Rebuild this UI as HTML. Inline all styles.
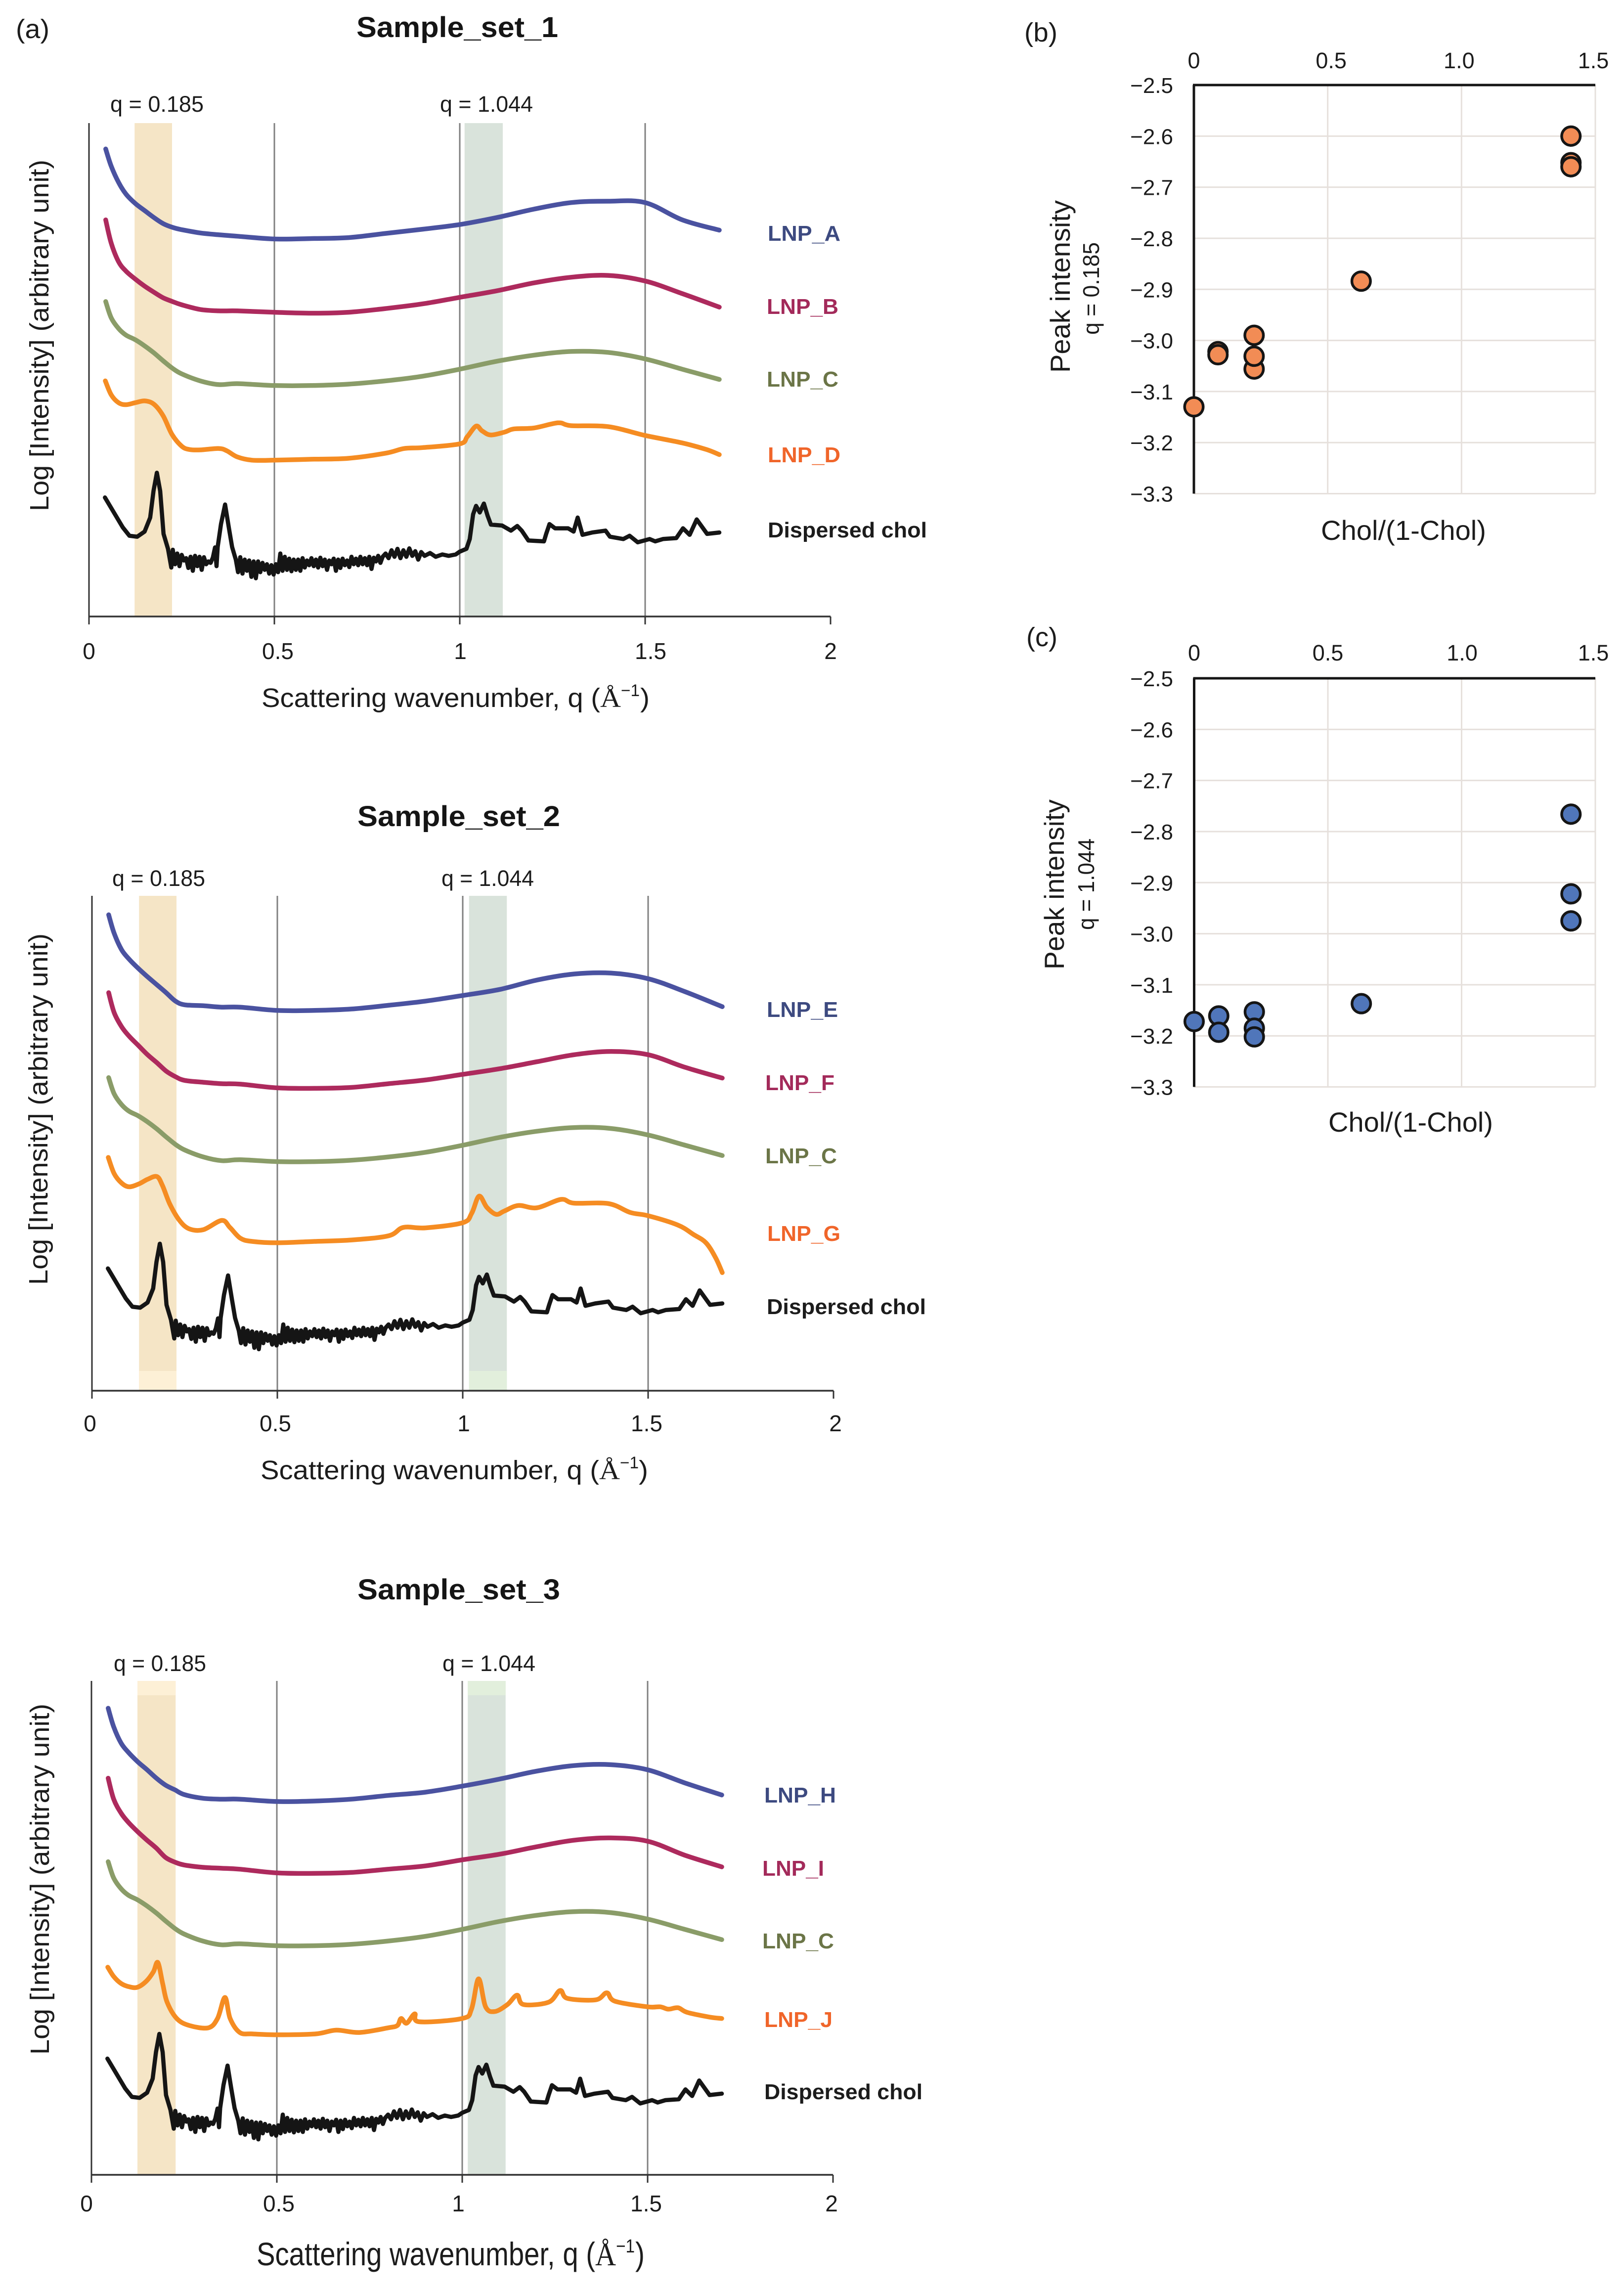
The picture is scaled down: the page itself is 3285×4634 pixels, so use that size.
<!DOCTYPE html>
<html lang="en">
<head>
<meta charset="utf-8">
<title>Scattering profiles and peak intensity</title>
<style>
  html, body { margin: 0; padding: 0; background: #fff; }
  svg { display: block; }
  text { font-family: "Liberation Sans", sans-serif; fill: #1c1c1c; }
  .title { font-size: 58px; font-weight: bold; fill: #151515; }
  .panel-tag { font-size: 54px; }
  .q-label { font-size: 45px; }
  .axis-title { font-size: 54px; }
  .tick { font-size: 46px; }
  .series-label { font-size: 44px; font-weight: bold; }
  .sup { font-size: 34px; }
  .serif { font-family: "Liberation Serif", serif; }
</style>
</head>
<body>
<svg xmlns="http://www.w3.org/2000/svg" width="3285" height="4634" viewBox="0 0 3285 4634">
  <rect x="0" y="0" width="3285" height="4634" fill="#ffffff"/>

  <!-- Panel (a), sample set 1 -->
  <g id="set-1"></g>
  <g>
    <text class="panel-tag" x="32" y="77" textLength="68" lengthAdjust="spacingAndGlyphs">(a)</text>
    <text class="title" x="721" y="75" textLength="408" lengthAdjust="spacingAndGlyphs">Sample_set_1</text>
    <text class="q-label" x="223" y="226" textLength="189" lengthAdjust="spacingAndGlyphs">q = 0.185</text>
    <text class="q-label" x="890" y="226" textLength="188" lengthAdjust="spacingAndGlyphs">q = 1.044</text>
    <text class="axis-title" transform="translate(98,1034) rotate(-90)" textLength="711" lengthAdjust="spacingAndGlyphs">Log [Intensity] (arbitrary unit)</text>
    <text class="axis-title" x="529" y="1430" textLength="685" lengthAdjust="spacingAndGlyphs">Scattering wavenumber, q (</text>
    <text class="axis-title serif" x="1214" y="1430" textLength="42" lengthAdjust="spacingAndGlyphs">Å</text>
    <text class="sup" x="1256" y="1408" textLength="38" lengthAdjust="spacingAndGlyphs">−1</text>
    <text class="axis-title" x="1295" y="1430" textLength="19" lengthAdjust="spacingAndGlyphs">)</text>
    <text class="series-label" x="1553" y="487" textLength="147" lengthAdjust="spacingAndGlyphs" style="fill:#3d4a80">LNP_A</text>
    <text class="series-label" x="1551" y="635" textLength="145" lengthAdjust="spacingAndGlyphs" style="fill:#a32a5a">LNP_B</text>
    <text class="series-label" x="1551" y="782" textLength="145" lengthAdjust="spacingAndGlyphs" style="fill:#6b7547">LNP_C</text>
    <text class="series-label" x="1553" y="935" textLength="147" lengthAdjust="spacingAndGlyphs" style="fill:#f0652a">LNP_D</text>
    <text class="series-label" x="1553" y="1087" textLength="322" lengthAdjust="spacingAndGlyphs">Dispersed chol</text>
  </g>

  <!-- Sample set 2 -->
  <g id="set-2"></g>
  <g>
    <text class="title" x="723" y="1671" textLength="410" lengthAdjust="spacingAndGlyphs">Sample_set_2</text>
    <text class="q-label" x="227" y="1792" textLength="188" lengthAdjust="spacingAndGlyphs">q = 0.185</text>
    <text class="q-label" x="893" y="1792" textLength="187" lengthAdjust="spacingAndGlyphs">q = 1.044</text>
    <text class="axis-title" transform="translate(96,2599) rotate(-90)" textLength="711" lengthAdjust="spacingAndGlyphs">Log [Intensity] (arbitrary unit)</text>
    <text class="axis-title" x="527" y="2992" textLength="685" lengthAdjust="spacingAndGlyphs">Scattering wavenumber, q (</text>
    <text class="axis-title serif" x="1212" y="2992" textLength="42" lengthAdjust="spacingAndGlyphs">Å</text>
    <text class="sup" x="1254" y="2970" textLength="38" lengthAdjust="spacingAndGlyphs">−1</text>
    <text class="axis-title" x="1292" y="2992" textLength="19" lengthAdjust="spacingAndGlyphs">)</text>
    <text class="series-label" x="1551" y="2057" textLength="144" lengthAdjust="spacingAndGlyphs" style="fill:#3d4a80">LNP_E</text>
    <text class="series-label" x="1548" y="2205" textLength="140" lengthAdjust="spacingAndGlyphs" style="fill:#a32a5a">LNP_F</text>
    <text class="series-label" x="1548" y="2353" textLength="145" lengthAdjust="spacingAndGlyphs" style="fill:#6b7547">LNP_C</text>
    <text class="series-label" x="1552" y="2510" textLength="148" lengthAdjust="spacingAndGlyphs" style="fill:#f0652a">LNP_G</text>
    <text class="series-label" x="1551" y="2658" textLength="322" lengthAdjust="spacingAndGlyphs">Dispersed chol</text>
  </g>

  <!-- Sample set 3 -->
  <g id="set-3"></g>
  <g>
    <text class="title" x="723" y="3235" textLength="410" lengthAdjust="spacingAndGlyphs">Sample_set_3</text>
    <text class="q-label" x="230" y="3380" textLength="187" lengthAdjust="spacingAndGlyphs">q = 0.185</text>
    <text class="q-label" x="895" y="3380" textLength="188" lengthAdjust="spacingAndGlyphs">q = 1.044</text>
    <text class="axis-title" transform="translate(99,4156) rotate(-90)" textLength="710" lengthAdjust="spacingAndGlyphs">Log [Intensity] (arbitrary unit)</text>
    <text x="519" y="4582" font-size="66" textLength="685" lengthAdjust="spacingAndGlyphs">Scattering wavenumber, q (</text>
    <text class="serif" x="1204" y="4582" font-size="66" textLength="42" lengthAdjust="spacingAndGlyphs">Å</text>
    <text x="1246" y="4556" font-size="38" textLength="38" lengthAdjust="spacingAndGlyphs">−1</text>
    <text x="1285" y="4582" font-size="66" textLength="19" lengthAdjust="spacingAndGlyphs">)</text>
    <text class="series-label" x="1546" y="3646" textLength="145" lengthAdjust="spacingAndGlyphs" style="fill:#3d4a80">LNP_H</text>
    <text class="series-label" x="1542" y="3794" textLength="125" lengthAdjust="spacingAndGlyphs" style="fill:#a32a5a">LNP_I</text>
    <text class="series-label" x="1542" y="3941" textLength="145" lengthAdjust="spacingAndGlyphs" style="fill:#6b7547">LNP_C</text>
    <text class="series-label" x="1546" y="4100" textLength="138" lengthAdjust="spacingAndGlyphs" style="fill:#f0652a">LNP_J</text>
    <text class="series-label" x="1546" y="4246" textLength="320" lengthAdjust="spacingAndGlyphs">Dispersed chol</text>
  </g>

  <!-- Panel (b) -->
  <g id="scatter-b"></g>
  <g>
    <text class="panel-tag" x="2072" y="84" textLength="67" lengthAdjust="spacingAndGlyphs">(b)</text>
    <text font-size="56" x="2672" y="1092" textLength="334" lengthAdjust="spacingAndGlyphs">Chol/(1-Chol)</text>
    <text font-size="56" transform="translate(2164,754) rotate(-90)" textLength="349" lengthAdjust="spacingAndGlyphs">Peak intensity</text>
    <text font-size="46" transform="translate(2223,677) rotate(-90)" textLength="187" lengthAdjust="spacingAndGlyphs">q = 0.185</text>
  </g>

  <!-- Panel (c) -->
  <g id="scatter-c"></g>
  <g>
    <text class="panel-tag" x="2076" y="1307" textLength="63" lengthAdjust="spacingAndGlyphs">(c)</text>
    <text font-size="56" x="2687" y="2289" textLength="333" lengthAdjust="spacingAndGlyphs">Chol/(1-Chol)</text>
    <text font-size="56" transform="translate(2152,1961) rotate(-90)" textLength="344" lengthAdjust="spacingAndGlyphs">Peak intensity</text>
    <text font-size="46" transform="translate(2213,1881) rotate(-90)" textLength="185" lengthAdjust="spacingAndGlyphs">q = 1.044</text>
  </g>
</svg>

<script>
/* ---------- scattering data (intensity in arbitrary units) ---------- */
const qSmooth = [0.045,0.06,0.08,0.10,0.125,0.15,0.175,0.2,0.225,0.25,0.3,0.35,0.4,0.5,0.6,0.7,0.8,0.9,1.0,1.1,1.2,1.3,1.4,1.5,1.6,1.7];

const lnpA = [1002,965,930,905,885,870,855,842,834,829,822,818,815,809,810,812,821,830,840,855,873,887,890,887,850,828];
const lnpB = [850,800,760,740,723,708,695,683,675,668,658,655,655,652,650,652,660,670,684,698,715,727,731,719,692,663];
const lnpC = [675,640,617,603,593,580,565,548,532,520,505,497,499,495,495,498,505,515,530,547,560,568,566,552,530,508];
const lnpE = [1020,980,945,925,905,887,870,853,835,827,825,822,822,815,815,818,826,835,847,860,880,893,895,883,855,823];
const lnpF = [853,810,780,760,740,720,703,685,673,665,661,658,657,649,648,650,658,666,678,690,705,720,727,720,693,670];
const lnpH = [1000,960,925,905,885,868,850,835,825,815,807,805,805,800,801,805,813,820,833,848,865,877,879,868,840,814];
const lnpI = [850,805,775,755,735,717,700,680,670,664,659,657,655,647,646,648,655,662,675,687,703,717,722,715,685,660];

const qLnpD = [.044,.06,.08,.10,.124,.15,.175,.2,.224,.25,.27,.30,.35,.372,.40,.44,.50,.60,.70,.80,.85,.90,1.0,1.02,1.044,1.06,1.083,1.12,1.146,1.20,1.265,1.30,1.40,1.50,1.60,1.665,1.70];
const lnpD = [505,475,458,454,458,462,455,430,390,365,358,357,360,355,342,335,335,337,339,350,360,362,370,385,408,398,389,395,402,404,415,409,407,388,372,358,347];

const qLnpG = [.044,.06,.08,.10,.126,.15,.175,.19,.21,.236,.262,.30,.35,.372,.40,.432,.50,.60,.70,.80,.84,.90,1.0,1.024,1.044,1.065,1.09,1.112,1.15,1.20,1.265,1.30,1.393,1.452,1.50,1.58,1.622,1.656,1.682,1.70];
const lnpG = [500,465,445,437,443,453,459,440,400,365,347,345,365,350,327,320,317,320,323,332,350,349,360,380,417,393,378,385,397,392,410,402,401,382,375,355,335,317,285,253];

const qLnpJ = [.044,.06,.08,.102,.124,.148,.167,.179,.192,.204,.23,.264,.315,.34,.36,.374,.40,.434,.50,.604,.66,.723,.80,.825,.835,.85,.872,.884,1.0,1.025,1.044,1.063,1.088,1.122,1.148,1.165,1.233,1.264,1.284,1.36,1.39,1.412,1.50,1.534,1.556,1.582,1.607,1.667,1.70];
const lnpJ = [445,425,410,403,402,415,435,455,410,370,335,320,315,335,380,335,305,302,300,302,310,305,315,320,335,325,345,328,335,355,420,360,350,365,385,365,370,395,378,375,390,372,360,360,355,358,348,338,335];

const qDispersed = [.043,.067,.091,.109,.13,.15,.165,.174,.183,.192,.201,.213,.222,.226,.232,.238,.244,.25,.256,.262,.268,.274,.28,.286,.292,.298,.304,.31,.316,.322,.328,.334,.34,.344,.347,.356,.367,.377,.386,.396,.402,.408,.414,.42,.426,.432,.438,.444,.45,.456,.462,.468,.474,.48,.486,.492,.498,.504,.51,.516,.522,.528,.534,.54,.546,.552,.558,.564,.57,.576,.582,.588,.594,.6,.606,.612,.618,.624,.63,.636,.642,.648,.654,.66,.666,.672,.678,.684,.69,.696,.702,.708,.714,.72,.726,.732,.738,.744,.75,.756,.762,.768,.774,.78,.786,.792,.8,.808,.816,.824,.832,.84,.848,.856,.864,.872,.88,.888,.896,.905,.92,.935,.953,.97,.989,1.0,1.018,1.027,1.036,1.044,1.054,1.065,1.075,1.084,1.114,1.138,1.155,1.167,1.185,1.227,1.233,1.242,1.257,1.292,1.307,1.318,1.331,1.357,1.393,1.405,1.441,1.458,1.48,1.512,1.527,1.548,1.584,1.602,1.62,1.639,1.667,1.70];
const dispersedChol = [255,223,191,173,171,182,212,269,308,269,177,145,105,143,112,135,108,132,120,125,104,128,98,130,108,128,100,127,112,118,115,126,148,108,149,198,240,191,149,122,95,127,92,122,98,120,85,118,82,118,95,115,100,112,92,110,90,112,95,135,98,128,100,124,97,122,100,122,98,125,105,120,110,125,108,122,105,126,108,122,100,120,112,124,98,122,104,124,110,120,106,128,112,124,110,128,112,125,110,128,102,126,118,130,115,128,135,125,142,128,145,125,142,128,146,130,140,122,138,130,136,128,133,130,133,139,145,166,219,237,223,242,216,197,195,184,194,184,163,161,177,198,189,189,182,212,175,180,184,171,166,173,159,166,161,166,168,189,175,208,177,180];

/* ---------- scatter data ---------- */
const cholRatioB = [1.409,1.409,1.409,0.625,0.09,0.09,0.225,0.225,0.225,0];
const peakIntensityB = [-2.60,-2.652,-2.66,-2.884,-3.022,-3.028,-3.056,-2.99,-3.031,-3.13];
const cholRatioC = [1.409,1.409,1.409,0.625,0.225,0.225,0.225,0.092,0.092,0];
const peakIntensityC = [-2.766,-2.922,-2.975,-3.137,-3.153,-3.185,-3.202,-3.161,-3.193,-3.172];

/* ---------- axis ticks ---------- */
const qTickValues = [0,0.5,1,1.5,2];
const qTickLabels = ['0','0.5','1','1.5','2'];
const ratioTickValues = [0,0.5,1,1.5];
const ratioTickLabels = ['0','0.5','1.0','1.5'];
const peakTickValues = [-2.5,-2.6,-2.7,-2.8,-2.9,-3.0,-3.1,-3.2,-3.3];
const peakTickLabels = ['−2.5','−2.6','−2.7','−2.8','−2.9','−3.0','−3.1','−3.2','−3.3'];

/* ---------- helpers ---------- */
const NS = 'http://www.w3.org/2000/svg';
function svgEl(tag, attrs) {
  const el = document.createElementNS(NS, tag);
  for (const key in attrs) el.setAttribute(key, attrs[key]);
  return el;
}

/* Catmull-Rom spline through the data points, so curves have no corners */
function smoothPath(pts) {
  let d = 'M' + pts[0][0].toFixed(1) + ' ' + pts[0][1].toFixed(1);
  for (let i = 0; i < pts.length - 1; i++) {
    const p0 = pts[Math.max(i - 1, 0)];
    const p1 = pts[i];
    const p2 = pts[i + 1];
    const p3 = pts[Math.min(i + 2, pts.length - 1)];
    const c1x = p1[0] + (p2[0] - p0[0]) / 6;
    const c1y = p1[1] + (p2[1] - p0[1]) / 6;
    const c2x = p2[0] - (p3[0] - p1[0]) / 6;
    const c2y = p2[1] - (p3[1] - p1[1]) / 6;
    d += 'C' + c1x.toFixed(1) + ' ' + c1y.toFixed(1) + ' ' + c2x.toFixed(1) + ' ' + c2y.toFixed(1) + ' ' + p2[0].toFixed(1) + ' ' + p2[1].toFixed(1);
  }
  return d;
}
function straightPath(pts) {
  return 'M' + pts.map(p => p[0].toFixed(1) + ' ' + p[1].toFixed(1)).join('L');
}

const COLORS = { blue:'#4a52a0', maroon:'#ad2a5d', olive:'#8a9c68', orange:'#f58c22', black:'#151515' };
const UNITS_PER_PX = 1.0595;

const sets = [
  { id:'set-1', x0:180, top:249, bottom:1247, labelBase:1333, nudge:[0,7,1,11,0],
    orangeBand:[0.123,0.224], greenBand:[1.013,1.116], fadeFrom:null, fadeTo:null,
    series:[
      {name:'lnp-a', q:qSmooth, v:lnpA, color:COLORS.blue, shift:0},
      {name:'lnp-b', q:qSmooth, v:lnpB, color:COLORS.maroon, shift:0},
      {name:'lnp-c', q:qSmooth, v:lnpC, color:COLORS.olive, shift:0},
      {name:'lnp-d', q:qLnpD, v:lnpD, color:COLORS.orange, shift:0},
      {name:'dispersed-chol', q:qDispersed, v:dispersedChol, color:COLORS.black, shift:0}
    ]},
  { id:'set-2', x0:186, top:1812, bottom:2813, labelBase:2895, nudge:[-4,-4,2,-3,4],
    orangeBand:[0.127,0.228], greenBand:[1.017,1.119], fadeFrom:2773, fadeTo:2813,
    series:[
      {name:'lnp-e', q:qSmooth, v:lnpE, color:COLORS.blue, shift:0},
      {name:'lnp-f', q:qSmooth, v:lnpF, color:COLORS.maroon, shift:0},
      {name:'lnp-c', q:qSmooth, v:lnpC, color:COLORS.olive, shift:-4},
      {name:'lnp-g', q:qLnpG, v:lnpG, color:COLORS.orange, shift:0},
      {name:'dispersed-chol', q:qDispersed, v:dispersedChol, color:COLORS.black, shift:7}
    ]},
  { id:'set-3', x0:185, top:3400, bottom:4399, labelBase:4473, nudge:[-10,4,-8,-3,-3],
    orangeBand:[0.124,0.227], greenBand:[1.015,1.117], fadeFrom:3400, fadeTo:3429,
    series:[
      {name:'lnp-h', q:qSmooth, v:lnpH, color:COLORS.blue, shift:0},
      {name:'lnp-i', q:qSmooth, v:lnpI, color:COLORS.maroon, shift:0},
      {name:'lnp-c', q:qSmooth, v:lnpC, color:COLORS.olive, shift:-4},
      {name:'lnp-j', q:qLnpJ, v:lnpJ, color:COLORS.orange, shift:0},
      {name:'dispersed-chol', q:qDispersed, v:dispersedChol, color:COLORS.black, shift:-6}
    ]}
];

function drawBand(group, xs, q0, q1, top, bottom, fill, bandName) {
  const band = svgEl('rect', { x:xs(q0), y:top, width:xs(q1)-xs(q0), height:bottom-top, fill:fill });
  
  
  group.appendChild(band);
}

function drawScatteringSet(cfg) {
  const group = document.getElementById(cfg.id);
  const xs = q => cfg.x0 + q * 750;
  const ys = v => cfg.bottom - v / UNITS_PER_PX;

  drawBand(group, xs, cfg.orangeBand[0], cfg.orangeBand[1], cfg.top, cfg.bottom, '#f5e5c6', 'q-0185-band');
  drawBand(group, xs, cfg.greenBand[0], cfg.greenBand[1], cfg.top, cfg.bottom, '#d9e3db', 'q-1044-band');
  if (cfg.fadeFrom !== null) {
    drawBand(group, xs, cfg.orangeBand[0], cfg.orangeBand[1], cfg.fadeFrom, cfg.fadeTo, '#fdf0d6', 'q-0185-band-light');
    drawBand(group, xs, cfg.greenBand[0], cfg.greenBand[1], cfg.fadeFrom, cfg.fadeTo, '#e2efdc', 'q-1044-band-light');
  }

  qTickValues.forEach((tick, i) => {
    if (tick > 0 && tick < 2) {
      const grid = svgEl('line', { x1:xs(tick), x2:xs(tick), y1:cfg.top, y2:cfg.bottom, stroke:'#808080', 'stroke-width':3 });
      
      
      group.appendChild(grid);
    }
    const mark = svgEl('line', { x1:xs(tick), x2:xs(tick), y1:cfg.bottom, y2:cfg.bottom+16, stroke:'#333333', 'stroke-width':3 });
    
    
    group.appendChild(mark);

    const label = svgEl('text', { x:xs(tick)+cfg.nudge[i], y:cfg.labelBase, 'text-anchor':'middle', class:'tick' });
    
    
    label.textContent = qTickLabels[i];
    group.appendChild(label);
  });

  const yAxis = svgEl('line', { x1:xs(0), x2:xs(0), y1:cfg.top, y2:cfg.bottom, stroke:'#333333', 'stroke-width':3 });
  
  
  group.appendChild(yAxis);

  const xAxis = svgEl('line', { x1:xs(0), x2:xs(2), y1:cfg.bottom, y2:cfg.bottom, stroke:'#333333', 'stroke-width':3.5 });
  
  
  group.appendChild(xAxis);

  cfg.series.forEach(s => {
    const pts = s.q.map((q, i) => [xs(q), ys(s.v[i] + s.shift)]);
    const isNoisy = s.q === qDispersed;
    const curve = svgEl('path', { d: isNoisy ? straightPath(pts) : smoothPath(pts), fill:'none', stroke:s.color, 'stroke-width':isNoisy ? 8.5 : 9.5, 'stroke-linejoin':'round', 'stroke-linecap':'round' });
    
    
    group.appendChild(curve);
  });
}
sets.forEach(drawScatteringSet);

const scatterPanels = [
  { id:'scatter-b', x0:2415, x1:3227, top:172, bottom:998.5, labelY:138, nudge:[0,7,-5,-4], ratio:cholRatioB, peak:peakIntensityB, fill:'#f28c55' },
  { id:'scatter-c', x0:2415.5, x1:3227, top:1372, bottom:2198.5, labelY:1336, nudge:[0,0,1,-4], ratio:cholRatioC, peak:peakIntensityC, fill:'#5076ba' }
];

function drawScatter(cfg) {
  const group = document.getElementById(cfg.id);
  const xs = r => cfg.x0 + r / 1.5 * (cfg.x1 - cfg.x0);
  const ys = p => cfg.top + (-2.5 - p) / 0.8 * (cfg.bottom - cfg.top);

  peakTickValues.forEach((tick, i) => {
    const grid = svgEl('line', { x1:cfg.x0, x2:cfg.x1, y1:ys(tick), y2:ys(tick), stroke:'#e6e0dc', 'stroke-width':3 });
    
    
    group.appendChild(grid);

    const label = svgEl('text', { x:2373, y:ys(tick)+16, 'text-anchor':'end', 'font-size':44 });
    
    
    label.textContent = peakTickLabels[i];
    group.appendChild(label);
  });

  ratioTickValues.forEach((tick, i) => {
    if (tick > 0) {
      const grid = svgEl('line', { x1:xs(tick), x2:xs(tick), y1:cfg.top, y2:cfg.bottom, stroke:'#e6e0dc', 'stroke-width':3 });
      
      
      group.appendChild(grid);
    }
    const label = svgEl('text', { x:xs(tick)+cfg.nudge[i], y:cfg.labelY, 'text-anchor':'middle', 'font-size':45 });
    
    
    label.textContent = ratioTickLabels[i];
    group.appendChild(label);
  });

  const xAxis = svgEl('line', { x1:cfg.x0-2, x2:cfg.x1, y1:cfg.top, y2:cfg.top, stroke:'#151515', 'stroke-width':5 });
  
  
  group.appendChild(xAxis);

  const yAxis = svgEl('line', { x1:cfg.x0, x2:cfg.x0, y1:cfg.top, y2:cfg.bottom, stroke:'#151515', 'stroke-width':5 });
  
  
  group.appendChild(yAxis);

  cfg.ratio.forEach((r, i) => {
    const dot = svgEl('circle', { cx:xs(r), cy:ys(cfg.peak[i]), r:18.8, fill:cfg.fill, stroke:'#151515', 'stroke-width':5.5 });
    
    
    group.appendChild(dot);
  });
}
scatterPanels.forEach(drawScatter);
</script>
</body>
</html>
